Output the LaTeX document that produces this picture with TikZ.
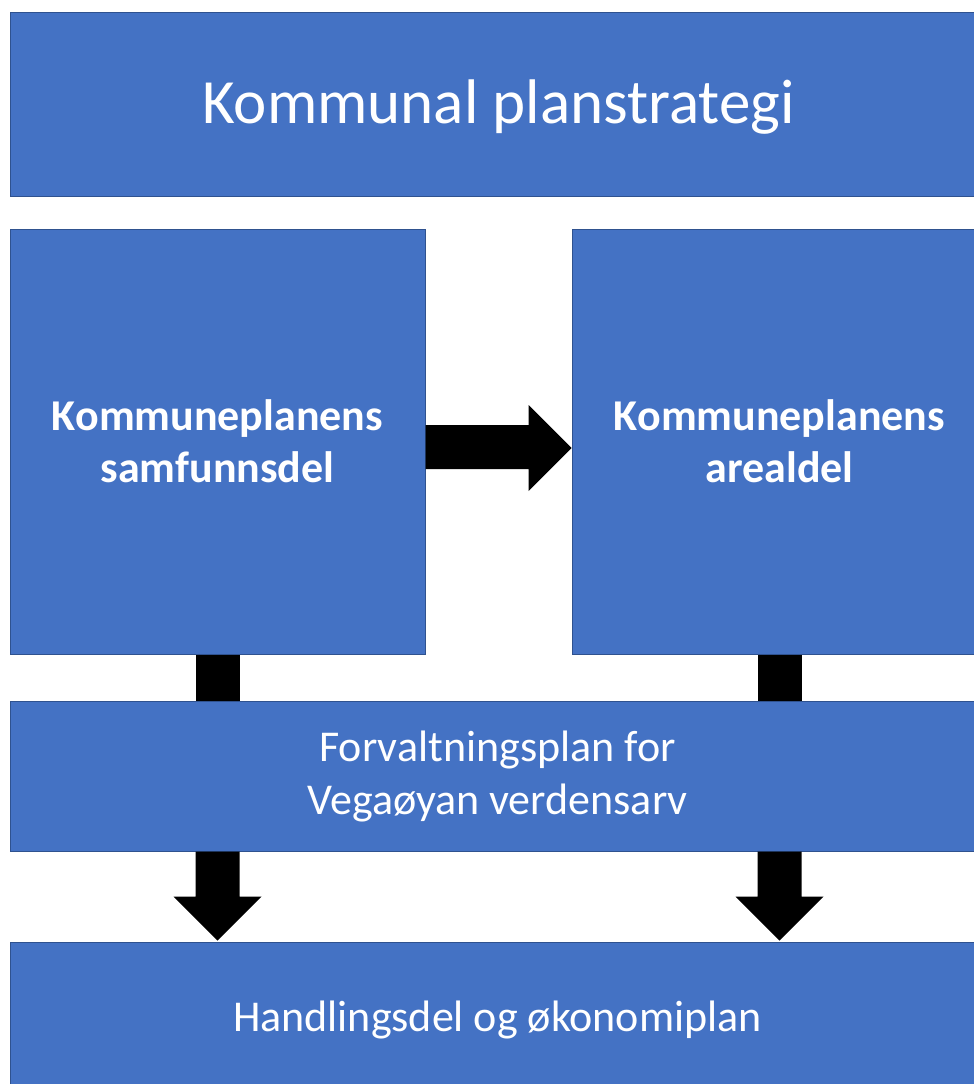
\documentclass[tikz,border=0pt]{standalone}
\usepackage{fontspec}
\setmainfont{Carlito}
\usetikzlibrary{calc}
\definecolor{boxblue}{HTML}{4472C4}
\definecolor{boxedge}{HTML}{2F528F}
\tikzset{
  box/.style={draw=boxedge, line width=1pt, fill=boxblue, text=white, align=center, inner sep=0pt},
  bigarrow/.style={fill=black, draw=none},
}
\begin{document}
\begin{tikzpicture}[x=1pt,y=-1pt]
\useasboundingbox (0,0) rectangle (974,1084);
\clip (0,0) rectangle (974,1084);
\node[box, minimum width=975pt, minimum height=184pt] (strat) at (497.5,104) {};
\node[text=white, font=\fontsize{63}{70}\selectfont, inner sep=0pt, anchor=base] (stratt) at (498.5,123) {Kommunal planstrategi};
\node[box, minimum width=415pt, minimum height=425pt, font=\bfseries\fontsize{44}{52}\selectfont] (samf) at (217.5,441.5) {Kommuneplanens\\samfunnsdel};
\node[box, minimum width=415pt, minimum height=425pt, font=\bfseries\fontsize{44}{52}\selectfont] (areal) at (779.5,441.5) {Kommuneplanens\\arealdel};
\node[box, minimum width=975pt, minimum height=150pt, font=\fontsize{44}{53}\selectfont] (forv) at (497.5,776) {Forvaltningsplan for\\Vegaøyan verdensarv};
\node[box, minimum width=975pt, minimum height=156pt, font=\fontsize{44}{52}\selectfont] (hand) at (497.5,1020) {Handlingsdel og økonomiplan};
% right arrow
\fill[bigarrow] ($(samf.east)+(0,-16.5)$) -- ++(103,0) -- ++(0,-20) -- ($(areal.west)+(0,6.5)$) -- ($(samf.east)+(103,49.5)$) -- ++(0,-22) -- ($(samf.east)+(0,27.5)$) -- cycle;
% connecting bars
\fill[bigarrow] ($(samf.south)+(-22,0)$) rectangle ($(samf.south |- forv.north)+(22,0)$);
\fill[bigarrow] ($(areal.south)+(-22,0)$) rectangle ($(areal.south |- forv.north)+(22,0)$);
% down arrows
\fill[bigarrow] ($(forv.south -| samf.south)+(-22,0)$) -- ++(0,45) -- ++(-22,0) -- ($(hand.north -| samf.south)+(0,-1)$) -- ($(forv.south -| samf.south)+(44,45)$) -- ++(-22,0) -- ($(forv.south -| samf.south)+(22,0)$) -- cycle;
\fill[bigarrow] ($(forv.south -| areal.south)+(-22,0)$) -- ++(0,45) -- ++(-22,0) -- ($(hand.north -| areal.south)+(0,-1)$) -- ($(forv.south -| areal.south)+(44,45)$) -- ++(-22,0) -- ($(forv.south -| areal.south)+(22,0)$) -- cycle;
\end{tikzpicture}
\end{document}
